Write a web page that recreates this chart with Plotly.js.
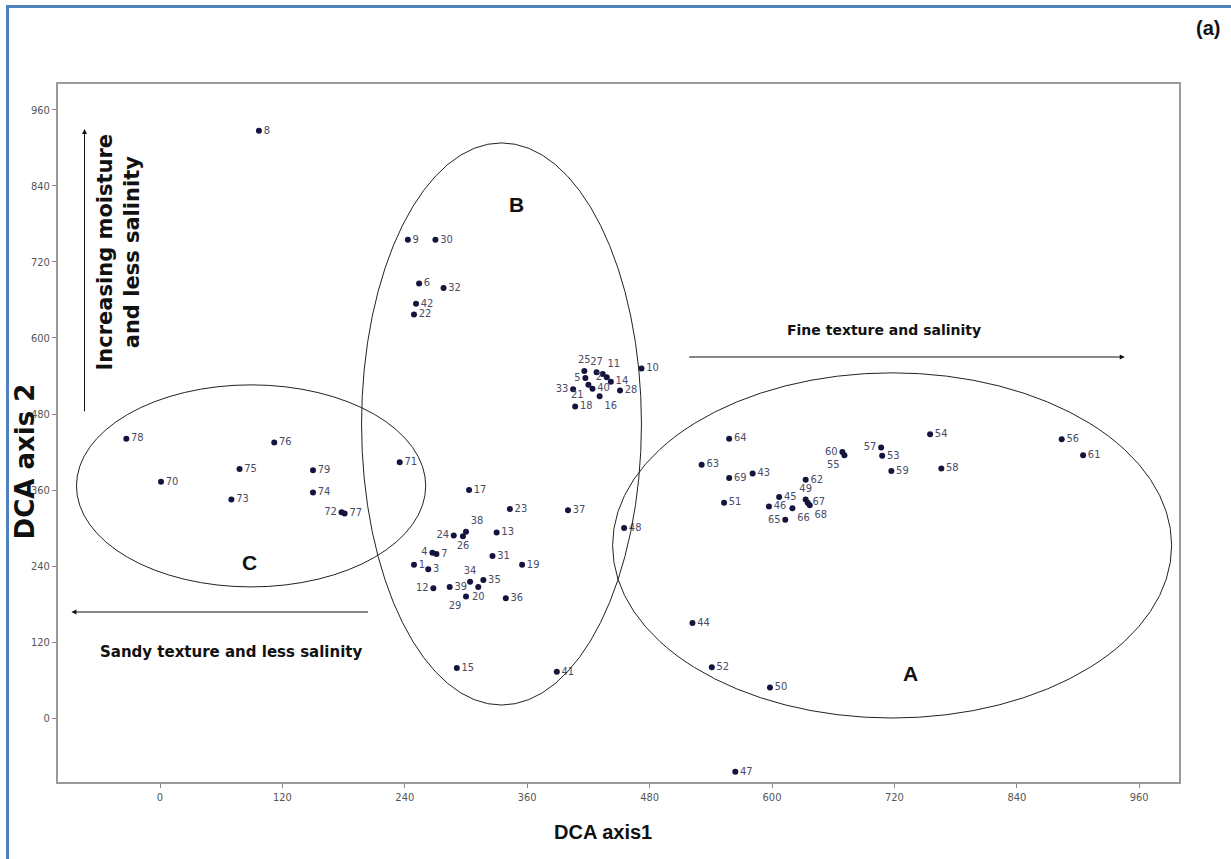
<!DOCTYPE html>
<html>
<head>
<meta charset="utf-8">
<script src="https://cdn.plot.ly/plotly-3.0.1.min.js"></script>
<style>
  html, body { margin: 0; padding: 0; background: #fff; overflow: hidden; }
  #chart { width: 1231px; height: 859px; }
  #frame { position: absolute; left: 6px; top: 5px; width: 1400px; height: 1000px;
           border-left: 3px solid #4f81bd; border-top: 3px solid #4f81bd; pointer-events: none; }
</style>
</head>
<body>
<div id="chart"></div>
<div id="frame"></div>
<script>
// Site numbers
const siteIds = [1,2,3,4,5,6,7,8,9,10,11,12,13,14,15,16,17,18,19,20,
  21,22,23,24,25,26,27,28,29,30,31,32,33,34,35,36,37,38,39,40,
  41,42,43,44,45,46,47,48,49,50,51,52,53,54,55,56,57,58,59,60,
  61,62,63,64,65,66,67,68,69,70,71,72,73,74,75,76,77,78,79];
// DCA axis 1 scores
const axis1 = [249,438,263,267,417,254,271,97,243,472,434,268,330,442,291,431,303,407,355,312,
  420,249,343,288,416,297,428,451,300,270,326,278,405,304,317,339,400,300,284,424,
  389,251,581,522,607,597,564,455,633,598,553,541,708,755,671,884,707,766,717,669,
  905,633,531,558,613,620,635,637,558,1,235,178,70,150,78,112,181,-33,150];
// DCA axis 2 scores
const axis2 = [242,538,235,261,537,686,259,927,755,552,543,205,293,531,79,508,360,492,242,207,
  526,637,330,288,548,287,546,517,192,755,256,679,519,215,218,189,328,294,207,520,
  73,654,386,150,349,334,-85,300,345,48,340,80,414,448,415,440,427,394,390,420,
  415,376,400,441,313,331,340,336,379,373,404,325,345,356,393,435,323,441,391];
// Axis ticks
const tickValues = [0,120,240,360,480,600,720,840,960];

// Label placement (style only)
const labelPlace = {2:'middle left',14:'middle right',25:'top center',27:'top center',11:'top right',
  5:'middle left',33:'middle left',21:'bottom left',40:'middle right',16:'bottom right',
  24:'middle left',26:'bottom center',4:'middle left',12:'middle left',34:'top center',
  20:'bottom center',29:'bottom left',60:'middle left',55:'bottom left',57:'middle left',
  49:'top center',68:'bottom right',65:'middle left',66:'bottom right',72:'middle left',38:'top right'};
const positions = siteIds.map(id => labelPlace[id] || 'middle right');

const trace = {
  x: axis1, y: axis2, text: siteIds.map(String),
  mode: 'markers+text', type: 'scatter',
  marker: {color: '#14143f', size: 6},
  textposition: positions,
  textfont: {family: 'Liberation Sans Narrow, DejaVu Sans Condensed, sans-serif', size: 11, color: '#4a4a66'},
  cliponaxis: false, hoverinfo: 'none'
};

const ell = (x0,x1,y0,y1) => ({type:'circle', xref:'x', yref:'y', x0, x1, y0, y1,
  line:{color:'#222', width:1}});
const arrow = (hx,hy,tx,ty) => ({x:hx, y:hy, ax:tx, ay:ty, axref:'x', ayref:'y', xref:'x', yref:'y',
  text:'', showarrow:true, arrowhead:2, arrowsize:1, arrowwidth:1, arrowcolor:'#111', standoff:0, startstandoff:0});
const boldF = (s) => ({family:'DejaVu Sans, Verdana, sans-serif', size:s, color:'#111', weight:'bold'});
const arialB = (s) => ({family:'Liberation Sans, Arial, sans-serif', size:s, color:'#111', weight:'bold'});

const layout = {
  width: 1231, height: 859,
  margin: {l: 58, r: 52, t: 84, b: 77},
  paper_bgcolor: '#fff', plot_bgcolor: '#fff',
  showlegend: false,
  xaxis: {range: [-100, 999], tickvals: tickValues, ticks: 'outside', ticklen: 4, tickcolor: '#888',
    showgrid: false, zeroline: false, showline: true, mirror: true, linecolor: '#9a9a9a', linewidth: 2,
    tickfont: {family: 'Liberation Sans Narrow, DejaVu Sans Condensed, sans-serif', size: 11, color: '#555'},
    title: {text: ''}},
  yaxis: {range: [-101, 1001], tickvals: tickValues, ticks: 'outside', ticklen: 4, tickcolor: '#888',
    showgrid: false, zeroline: false, showline: true, mirror: true, linecolor: '#9a9a9a', linewidth: 2,
    tickfont: {family: 'Liberation Sans Narrow, DejaVu Sans Condensed, sans-serif', size: 11, color: '#555'},
    title: {text: ''}},
  shapes: [
    ell(197.6, 472, 20.5, 908),
    ell(443.7, 991.8, 0, 545),
    ell(-81.9, 260.5, 207, 526)
  ],
  annotations: [
    arrow(945.8, 570, 517.3, 570),
    arrow(-86.8, 167.4, 205.4, 167.4),
    arrow(-74, 930, -74, 481.6),
    {x: 709.5, y: 612.6, xref:'x', yref:'y', text:'Fine texture and salinity', showarrow:false, font: boldF(14)},
    {x: 70, y: 105, xref:'x', yref:'y', text:'Sandy texture and less salinity', showarrow:false, font: boldF(15)},
    {x: -40.7, y: 735.8, xref:'x', yref:'y', text:'Increasing moisture<br>and less salinity', showarrow:false,
      textangle: -90, font: boldF(21)},
    {x: 349.6, y: 810, xref:'x', yref:'y', text:'B', showarrow:false, font: arialB(21)},
    {x: 88, y: 246, xref:'x', yref:'y', text:'C', showarrow:false, font: arialB(21)},
    {x: 735.8, y: 71, xref:'x', yref:'y', text:'A', showarrow:false, font: arialB(21)},
    {x: -0.0299, y: 0.46, xref:'paper', yref:'paper', xanchor:'center', yanchor:'middle',
      text:'DCA axis 2', showarrow:false, textangle:-90, font: boldF(26)},
    {x: 0.486, y: -0.0716, xref:'paper', yref:'paper', xanchor:'center', yanchor:'middle',
      text:'DCA axis1', showarrow:false, font: arialB(20)},
    {x: 1.0259, y: 1.080, xref:'paper', yref:'paper', xanchor:'center', yanchor:'middle',
      text:'(a)', showarrow:false, font: arialB(20)}
  ]
};

Plotly.newPlot('chart', [trace], layout, {staticPlot: true, displayModeBar: false});
</script>
</body>
</html>
